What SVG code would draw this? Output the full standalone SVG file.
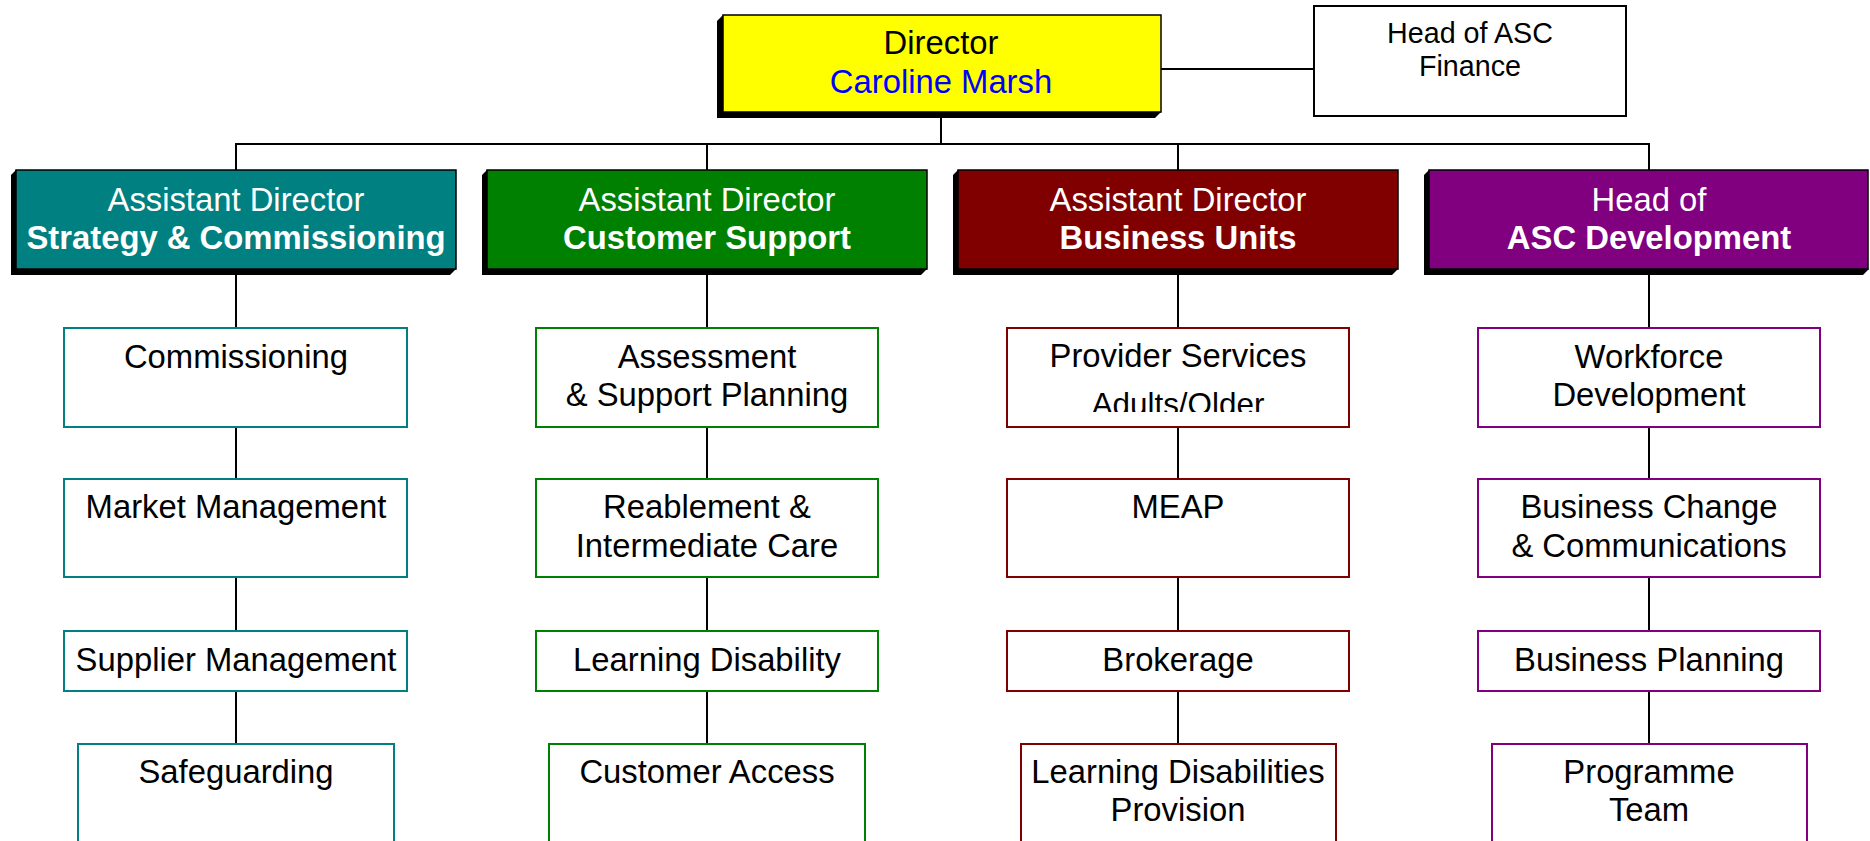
<svg xmlns="http://www.w3.org/2000/svg" width="1870" height="841" viewBox="0 0 1870 841">
<style>
  text { font-family: "Liberation Sans", Arial, sans-serif; text-anchor: middle; }
  .t { font-size: 32.8px; fill: #000; }
  .w { font-size: 32.8px; fill: #fff; }
  .wb { font-size: 32.8px; fill: #fff; font-weight: bold; }
  .fin { font-size: 28.7px; fill: #000; }
  .shadow { fill: #000; }
  .outline { stroke: #000; stroke-width: 1.5; }
  .teal { fill: #fff; stroke: #008080; stroke-width: 2; }
  .green { fill: #fff; stroke: #008000; stroke-width: 2; }
  .red { fill: #fff; stroke: #800000; stroke-width: 2; }
  .purple { fill: #fff; stroke: #800080; stroke-width: 2; }
  .conn { stroke: #000; stroke-width: 2; fill: none; }
</style>
<defs>
  <clipPath id="clipProv"><rect x="1007" y="329" width="342" height="83"/></clipPath>
</defs>
<rect width="1870" height="841" fill="#fff"/>

<g id="connectors">
  <line class="conn" x1="1161" y1="69" x2="1314" y2="69"/>
  <line class="conn" x1="941" y1="117" x2="941" y2="144"/>
  <polyline class="conn" points="236,170 236,144 1649,144 1649,170"/>
  <line class="conn" x1="707" y1="144" x2="707" y2="170"/>
  <line class="conn" x1="1178" y1="144" x2="1178" y2="170"/>
  <line class="conn" x1="236" y1="275" x2="236" y2="744"/>
  <line class="conn" x1="707" y1="275" x2="707" y2="744"/>
  <line class="conn" x1="1178" y1="275" x2="1178" y2="744"/>
  <line class="conn" x1="1649" y1="275" x2="1649" y2="744"/>
</g>

<g id="director">
  <path class="shadow" d="M723,15 L717,21 L717,118 L1155,118 L1161,112 Z"/>
  <rect class="outline" x="723" y="15" width="438" height="97" fill="#ffff00"/>
  <text class="t" x="941" y="54">Director</text>
  <text class="t" x="941" y="93" style="fill:#0000ff">Caroline Marsh</text>
</g>

<g id="finance">
  <rect x="1314" y="6" width="312" height="110" fill="#fff" stroke="#000" stroke-width="2"/>
  <text class="fin" x="1470" y="43">Head of ASC</text>
  <text class="fin" x="1470" y="76">Finance</text>
</g>

<g id="ad-strategy">
  <path class="shadow" d="M16,170 L11,175 L11,275 L450,275 L456,269 Z"/>
  <rect class="outline" x="16" y="170" width="440" height="99" fill="#008080"/>
  <text class="w" x="236" y="211">Assistant Director</text>
  <text class="wb" x="236" y="249">Strategy &amp; Commissioning</text>
</g>
<g id="ad-customer">
  <path class="shadow" d="M487,170 L482,175 L482,275 L921,275 L927,269 Z"/>
  <rect class="outline" x="487" y="170" width="440" height="99" fill="#008000"/>
  <text class="w" x="707" y="211">Assistant Director</text>
  <text class="wb" x="707" y="249">Customer Support</text>
</g>
<g id="ad-business">
  <path class="shadow" d="M958,170 L953,175 L953,275 L1392,275 L1398,269 Z"/>
  <rect class="outline" x="958" y="170" width="440" height="99" fill="#800000"/>
  <text class="w" x="1178" y="211">Assistant Director</text>
  <text class="wb" x="1178" y="249">Business Units</text>
</g>
<g id="head-development">
  <path class="shadow" d="M1429,170 L1424,175 L1424,275 L1863,275 L1869,269 Z"/>
  <rect class="outline" x="1429" y="170" width="439" height="99" fill="#800080"/>
  <text class="w" x="1649" y="211">Head of</text>
  <text class="wb" x="1649" y="249">ASC Development</text>
</g>

<g id="commissioning">
  <rect class="teal" x="64" y="328" width="343" height="99"/>
  <text class="t" x="236" y="368">Commissioning</text>
</g>
<g id="market-management">
  <rect class="teal" x="64" y="479" width="343" height="98"/>
  <text class="t" x="236" y="518">Market Management</text>
</g>
<g id="supplier-management">
  <rect class="teal" x="64" y="631" width="343" height="60"/>
  <text class="t" x="236" y="671">Supplier Management</text>
</g>
<g id="safeguarding">
  <rect class="teal" x="78" y="744" width="316" height="110"/>
  <text class="t" x="236" y="783">Safeguarding</text>
</g>

<g id="assessment">
  <rect class="green" x="536" y="328" width="342" height="99"/>
  <text class="t" x="707" y="368">Assessment</text>
  <text class="t" x="707" y="406">&amp; Support Planning</text>
</g>
<g id="reablement">
  <rect class="green" x="536" y="479" width="342" height="98"/>
  <text class="t" x="707" y="518">Reablement &amp;</text>
  <text class="t" x="707" y="557">Intermediate Care</text>
</g>
<g id="learning-disability">
  <rect class="green" x="536" y="631" width="342" height="60"/>
  <text class="t" x="707" y="671">Learning Disability</text>
</g>
<g id="customer-access">
  <rect class="green" x="549" y="744" width="316" height="110"/>
  <text class="t" x="707" y="783">Customer Access</text>
</g>

<g id="provider-services">
  <rect class="red" x="1007" y="328" width="342" height="99"/>
  <text class="t" x="1178" y="367">Provider Services</text>
  <text class="t" x="1178" y="415" clip-path="url(#clipProv)" style="font-size:31.4px">Adults/Older</text>
</g>
<g id="meap">
  <rect class="red" x="1007" y="479" width="342" height="98"/>
  <text class="t" x="1178" y="518">MEAP</text>
</g>
<g id="brokerage">
  <rect class="red" x="1007" y="631" width="342" height="60"/>
  <text class="t" x="1178" y="671">Brokerage</text>
</g>
<g id="ld-provision">
  <rect class="red" x="1021" y="744" width="315" height="110"/>
  <text class="t" x="1178" y="783">Learning Disabilities</text>
  <text class="t" x="1178" y="821">Provision</text>
</g>

<g id="workforce">
  <rect class="purple" x="1478" y="328" width="342" height="99"/>
  <text class="t" x="1649" y="368">Workforce</text>
  <text class="t" x="1649" y="406">Development</text>
</g>
<g id="business-change">
  <rect class="purple" x="1478" y="479" width="342" height="98"/>
  <text class="t" x="1649" y="518">Business Change</text>
  <text class="t" x="1649" y="557">&amp; Communications</text>
</g>
<g id="business-planning">
  <rect class="purple" x="1478" y="631" width="342" height="60"/>
  <text class="t" x="1649" y="671">Business Planning</text>
</g>
<g id="programme-team">
  <rect class="purple" x="1492" y="744" width="315" height="110"/>
  <text class="t" x="1649" y="783">Programme</text>
  <text class="t" x="1649" y="821">Team</text>
</g>
</svg>
